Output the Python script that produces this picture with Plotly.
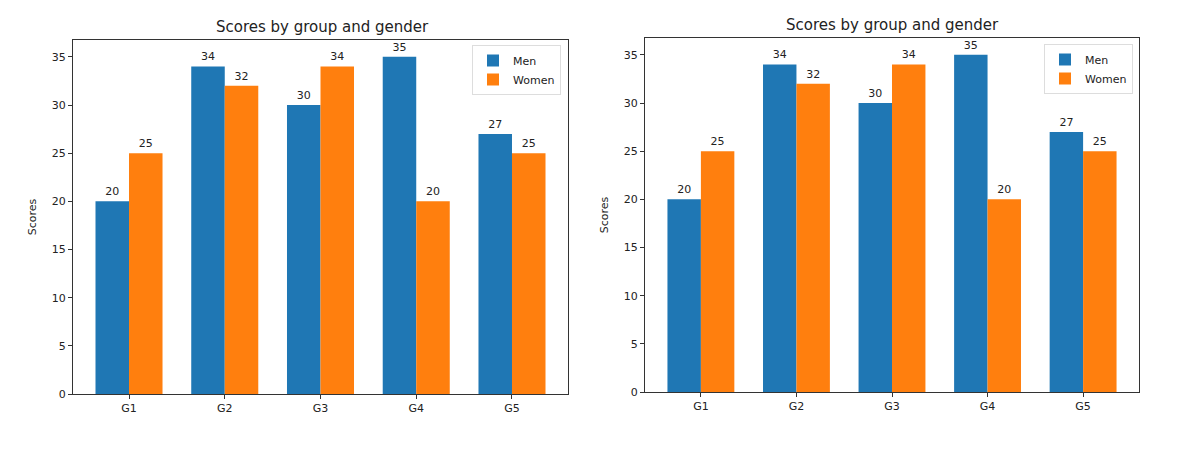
import plotly.graph_objects as go

groups = ["G1", "G2", "G3", "G4", "G5"]
men = [20, 34, 30, 35, 27]
women = [25, 32, 34, 20, 25]
title = "Scores by group and gender"
y_ticks = [0, 5, 10, 15, 20, 25, 30, 35]

BLUE = "#1f77b4"
ORANGE = "#ff7f0e"
FONT = "DejaVu Sans"
W, H = 1200, 467
OFF = 8  # page body margin offset

def px(xp):
    return (xp - OFF) / W

def py(yp):
    return 1 - (yp - OFF) / H

fig = go.Figure()

panels = [
    dict(xa="x", ya="y", xd=[px(73), px(568)], yd=[py(394), py(40)], leg="legend",
         lx=px(561), ly=py(45), tx=px(322), ty=py(27)),
    dict(xa="x2", ya="y2", xd=[px(645), px(1139)], yd=[py(392), py(38)], leg="legend2",
         lx=px(1133), ly=py(44), tx=px(892), ty=py(25)),
]

for i, p in enumerate(panels):
    for name, vals, col in [("Men", men, BLUE), ("Women", women, ORANGE)]:
        fig.add_trace(go.Bar(
            x=groups, y=vals, name=name, marker_color=col, marker_line_width=0,
            text=[str(v) for v in vals], textposition="outside", cliponaxis=False,
            textfont=dict(family=FONT, size=11, color="#222"),
            xaxis=p["xa"], yaxis=p["ya"], legend=p["leg"], offsetgroup=name,
        ))

axis_common = dict(showline=True, linecolor="#333", linewidth=1, mirror=True,
                   ticks="outside", ticklen=4, tickcolor="#333", showgrid=False,
                   zeroline=False, tickfont=dict(family=FONT, size=11, color="#222"))

layout = dict(
    width=W, height=H, margin=dict(l=0, r=0, t=0, b=0, autoexpand=False),
    paper_bgcolor="white", plot_bgcolor="white",
    barmode="group", bargap=0.3, bargroupgap=0,
    showlegend=True,
    font=dict(family=FONT, color="#222"),
)
for i, p in enumerate(panels):
    sfx = "" if i == 0 else "2"
    layout["xaxis" + sfx] = dict(domain=p["xd"], anchor="y" + sfx, range=[-0.585, 4.585],
                                 type="category", **axis_common)
    layout["yaxis" + sfx] = dict(domain=p["yd"], anchor="x" + sfx, range=[0, 36.75],
                                 tickvals=y_ticks,
                                 title=dict(text="Scores", font=dict(family=FONT, size=11, color="#222"), standoff=12),
                                 **axis_common)
    layout[p["leg"]] = dict(x=p["lx"], y=p["ly"], xanchor="right", yanchor="top",
                            bgcolor="rgba(255,255,255,0.8)", bordercolor="#ddd", borderwidth=1,
                            font=dict(family=FONT, size=11, color="#222"), itemwidth=30)

fig.update_layout(**layout)

for p in panels:
    fig.add_annotation(text=title, x=p["tx"], y=p["ty"],
                       xref="paper", yref="paper", showarrow=False,
                       xanchor="center", yanchor="middle",
                       font=dict(family=FONT, size=15, color="#222"))

fig.write_html("out.html")
